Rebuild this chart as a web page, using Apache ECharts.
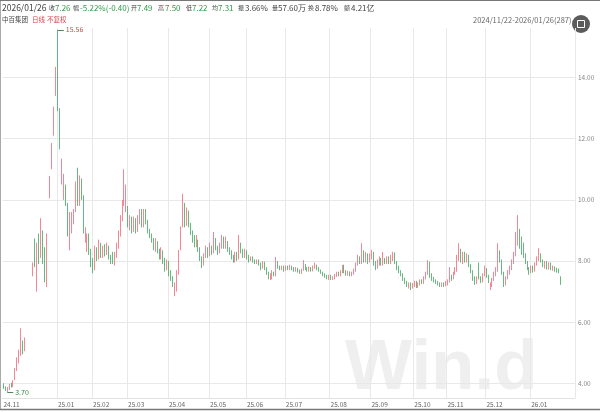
<!DOCTYPE html>
<html><head><meta charset="utf-8">
<script src="https://cdn.jsdelivr.net/npm/echarts@6/dist/echarts.min.js"></script>
<style>html,body{margin:0;padding:0;background:#fff}#c{width:600px;height:412px}</style>
</head><body><div id="c"></div>
<script>
// ---- data ----
const monthLabels = ['24.11','24.12','25.01','25.02','25.03','25.04','25.05','25.06','25.07','25.08','25.09','25.10','25.11','25.12','26.01'];
const monthDays   = [6,22,18,18,21,21,19,20,23,21,22,17,20,23,16];
const shownMonths = ['24.11','25.01','25.02','25.03','25.04','25.05','25.06','25.07','25.08','25.09','25.10','25.11','25.12','26.01'];
const yTicks = [4,6,8,10,12,14];

const opens = [
3.95,3.85,3.78,3.82,3.95,3.90,
4.15,4.45,4.75,5.00,5.30,5.10,5.97,6.57,7.23,7.60,8.74,7.80,8.40,8.30,8.90,8.20,7.50,9.79,10.10,11.05,12.15,13.50,
14.97,12.60,10.75,10.10,10.40,9.67,8.60,9.00,9.30,9.70,10.50,9.90,10.55,10.10,8.70,8.40,8.80,8.30,
7.95,7.80,8.30,8.10,8.45,8.20,8.40,8.25,8.45,8.15,8.25,7.95,8.20,8.50,8.90,9.40,9.90,9.90,
9.70,9.20,9.35,9.10,9.30,9.05,9.30,9.50,9.20,9.60,9.30,9.00,8.85,8.70,8.45,8.60,8.35,8.15,8.30,8.00,7.80,
7.95,7.60,7.45,7.00,7.10,7.60,8.40,9.30,9.70,9.30,9.55,9.20,8.95,8.75,8.55,8.65,8.40,8.10,7.90,8.15,8.35,
8.20,8.45,8.30,8.70,8.45,8.30,8.50,8.70,8.50,8.60,8.40,8.30,8.15,8.05,8.20,8.10,8.55,8.35,8.20,
8.30,8.15,8.05,8.10,8.00,7.95,8.00,7.92,7.80,7.95,7.75,7.60,7.42,7.50,7.60,7.55,7.95,7.80,7.75,7.80,
7.72,7.80,7.75,7.82,7.75,7.70,7.74,7.68,7.62,7.70,7.85,7.75,7.70,7.78,7.70,7.80,7.85,7.75,7.70,7.62,7.55,7.50,7.45,
7.50,7.42,7.45,7.52,7.60,7.55,7.65,7.85,7.65,7.58,7.62,7.55,7.60,7.70,7.90,8.10,7.95,8.30,8.05,8.20,8.00,
8.15,8.25,7.95,7.80,7.95,8.05,7.90,8.05,8.00,8.10,7.95,8.10,8.25,7.95,7.80,7.65,7.55,7.40,7.30,7.20,7.25,7.15,
7.20,7.30,7.20,7.25,7.35,7.30,7.45,7.60,7.95,7.50,7.42,7.35,7.30,7.25,7.20,7.25,7.22,
7.25,7.35,7.50,7.45,7.60,7.70,8.10,8.30,8.00,8.20,8.05,8.15,7.85,7.65,7.45,7.30,7.90,7.45,7.35,7.55,
7.70,7.50,7.10,7.25,7.40,7.55,7.70,8.30,8.00,7.60,7.30,7.45,7.60,7.75,7.95,8.20,8.60,8.95,8.70,8.50,8.20,7.95,7.75,
7.65,7.80,7.70,7.90,8.05,8.20,8.00,7.85,7.95,7.80,7.90,7.75,7.80,7.72,7.68,7.49
];
const closes = [
3.85,3.80,3.82,3.95,3.90,4.05,
4.45,4.75,5.00,5.30,5.05,5.43,5.97,6.57,7.23,7.95,7.85,8.40,8.30,9.20,8.20,7.45,8.90,9.79,10.78,11.86,13.05,14.35,
12.95,11.70,11.30,10.70,9.90,8.90,9.50,9.55,9.65,10.40,9.90,10.60,10.20,9.00,8.90,8.80,8.30,7.90,
7.75,8.30,8.10,8.50,8.20,8.40,8.25,8.50,8.15,8.00,7.95,8.20,8.50,8.90,9.40,9.90,10.70,10.40,
9.15,9.40,9.10,9.35,9.05,9.30,9.55,9.20,9.60,9.30,9.00,8.85,8.70,8.45,8.60,8.35,8.15,8.30,8.00,7.80,7.95,
7.60,7.45,7.25,7.10,7.60,8.30,9.10,9.80,9.30,9.60,9.20,8.95,8.75,8.55,8.70,8.40,8.10,7.90,8.15,8.35,8.20,
8.45,8.30,8.70,8.45,8.30,8.50,8.75,8.50,8.60,8.40,8.30,8.15,8.05,8.20,8.10,8.60,8.35,8.20,8.30,
8.15,8.05,8.10,8.00,7.95,8.00,7.92,7.80,7.95,7.75,7.60,7.50,7.50,7.60,7.55,8.00,7.80,7.75,7.80,7.72,
7.80,7.75,7.82,7.75,7.70,7.74,7.68,7.62,7.70,7.85,7.75,7.70,7.78,7.70,7.80,7.85,7.75,7.70,7.62,7.55,7.50,7.45,7.50,
7.42,7.45,7.52,7.60,7.55,7.65,7.80,7.65,7.58,7.62,7.55,7.60,7.70,7.90,8.10,7.95,8.30,8.05,8.20,8.00,8.15,
8.25,7.95,7.80,7.95,8.05,7.90,8.05,8.00,8.10,7.95,8.10,8.25,7.95,7.80,7.65,7.55,7.40,7.30,7.20,7.25,7.15,7.20,
7.30,7.20,7.25,7.35,7.30,7.45,7.60,7.95,7.50,7.42,7.35,7.30,7.25,7.20,7.25,7.22,7.28,
7.35,7.50,7.45,7.60,7.70,8.10,8.30,8.00,8.20,8.05,8.15,7.85,7.65,7.45,7.30,7.45,7.45,7.35,7.55,7.70,
7.50,7.35,7.25,7.40,7.55,7.70,8.30,8.00,7.60,7.30,7.45,7.60,7.75,7.95,8.20,8.60,9.00,8.50,8.30,8.20,7.95,7.75,7.65,
7.80,7.70,7.90,8.05,8.20,8.00,7.85,7.95,7.80,7.90,7.75,7.80,7.72,7.68,7.66,7.26
];
const highs = [
4.00,3.90,3.88,3.98,4.02,4.10,
4.50,4.85,5.10,5.80,5.40,5.50,5.97,6.57,7.23,7.95,8.74,8.60,8.90,9.40,9.00,8.45,8.90,9.79,10.78,11.86,13.05,14.35,
15.56,13.00,11.35,10.85,10.50,9.90,9.60,9.60,9.70,10.60,11.05,10.80,10.70,10.15,9.10,8.90,8.90,8.40,
8.10,8.50,8.45,8.70,8.60,8.50,8.55,8.60,8.50,8.20,8.30,8.30,8.60,9.00,9.50,10.00,11.00,10.50,
9.80,9.50,9.45,9.45,9.40,9.50,9.70,9.70,9.70,9.70,9.35,9.05,8.90,8.75,8.75,8.65,8.40,8.45,8.35,8.10,8.05,
8.00,7.70,7.50,7.30,7.70,8.36,9.13,10.20,9.90,9.75,9.65,9.25,9.00,8.85,8.85,8.70,8.45,8.15,8.25,8.50,8.45,
8.60,8.50,8.95,8.75,8.50,8.60,8.85,8.80,8.80,8.65,8.45,8.35,8.20,8.30,8.30,8.85,8.60,8.40,8.40,
8.35,8.20,8.15,8.15,8.05,8.05,8.05,7.95,8.00,7.98,7.80,7.65,7.60,7.70,7.65,8.13,8.00,7.85,7.85,7.85,
7.85,7.85,7.88,7.85,7.80,7.80,7.78,7.72,7.75,8.03,7.90,7.80,7.82,7.80,7.85,7.95,7.88,7.80,7.72,7.65,7.60,7.55,7.55,
7.55,7.50,7.58,7.65,7.65,7.70,7.87,7.88,7.70,7.68,7.66,7.65,7.75,7.95,8.20,8.15,8.58,8.35,8.30,8.25,8.25,
8.36,8.30,8.00,8.05,8.15,8.10,8.30,8.10,8.15,8.15,8.20,8.30,8.28,8.00,7.85,7.70,7.60,7.45,7.35,7.30,7.30,7.28,
7.35,7.35,7.30,7.40,7.40,7.50,7.65,8.03,7.98,7.60,7.48,7.40,7.35,7.30,7.30,7.30,7.35,
7.40,7.80,7.55,7.65,7.80,8.20,8.58,8.40,8.30,8.30,8.25,8.20,7.90,7.70,7.50,7.50,7.95,7.50,7.60,7.85,
7.77,7.55,7.30,7.45,7.65,7.80,8.58,8.35,8.05,7.65,7.50,7.70,7.85,8.05,8.30,8.95,9.50,9.05,8.80,8.60,8.25,8.00,7.80,
7.85,7.85,7.95,8.15,8.42,8.25,8.05,8.00,8.00,7.96,7.95,7.85,7.82,7.78,7.75,7.50
];
const lows = [
3.82,3.75,3.70,3.78,3.86,3.88,
4.10,4.40,4.65,4.90,4.95,5.05,5.97,6.57,7.23,7.50,7.80,7.00,7.90,8.10,7.90,7.30,7.15,9.79,10.05,11.00,12.10,13.40,
12.90,11.65,10.50,10.00,9.80,8.80,8.35,8.90,9.20,9.60,9.80,9.80,10.00,8.90,8.60,8.30,8.20,7.80,
7.60,7.70,8.00,8.05,8.10,8.10,8.15,8.20,8.05,7.90,7.90,7.85,8.10,8.40,8.80,9.30,9.80,9.60,
9.10,9.00,8.90,8.95,8.90,8.95,9.20,9.10,9.10,9.20,8.90,8.75,8.60,8.35,8.30,8.25,8.05,8.05,7.90,7.65,7.70,
7.50,7.35,7.15,6.85,7.00,7.55,8.35,9.10,9.10,9.15,9.10,8.85,8.60,8.45,8.45,8.30,8.00,7.77,7.85,8.10,8.10,
8.15,8.20,8.25,8.35,8.20,8.25,8.40,8.40,8.40,8.30,8.20,8.05,7.95,7.95,8.00,8.05,8.25,8.10,8.10,
8.05,7.95,8.00,7.95,7.90,7.90,7.85,7.70,7.75,7.70,7.55,7.40,7.38,7.40,7.50,7.50,7.75,7.70,7.70,7.65,
7.68,7.70,7.70,7.70,7.65,7.65,7.62,7.58,7.58,7.68,7.70,7.65,7.65,7.65,7.66,7.75,7.70,7.65,7.58,7.50,7.45,7.40,7.38,
7.38,7.38,7.40,7.48,7.50,7.50,7.60,7.60,7.52,7.52,7.50,7.50,7.55,7.65,7.85,7.90,7.90,7.95,7.95,7.90,7.95,
8.05,7.85,7.70,7.75,7.85,7.85,7.85,7.90,7.90,7.90,7.90,8.00,7.90,7.70,7.60,7.50,7.35,7.25,7.15,7.10,7.05,7.10,
7.15,7.12,7.12,7.20,7.25,7.25,7.40,7.55,7.45,7.35,7.30,7.25,7.20,7.15,7.15,7.15,7.18,
7.20,7.30,7.35,7.40,7.55,7.65,8.00,7.95,7.90,7.95,7.95,7.80,7.60,7.35,7.22,7.25,7.40,7.28,7.30,7.50,
7.45,7.28,7.05,7.15,7.35,7.50,7.65,7.95,7.55,7.15,7.20,7.40,7.55,7.70,7.90,8.15,8.50,8.40,8.20,8.10,7.90,7.70,7.55,
7.60,7.62,7.65,7.85,8.00,7.95,7.80,7.75,7.72,7.72,7.70,7.68,7.65,7.62,7.60,7.22
];
const padSlots = 7;

// ---- build ----
const total = monthDays.reduce((a,b)=>a+b,0);
if ([opens,closes,highs,lows].some(a=>a.length!==total)) {
  throw new Error('length mismatch '+[opens.length,closes.length,highs.length,lows.length].join(','));
}
const cats = [];
const monthStart = {};
monthLabels.forEach((m, mi) => {
  for (let d = 1; d <= monthDays[mi]; d++) {
    if (d === 1 && shownMonths.indexOf(m) >= 0) monthStart[cats.length] = m;
    cats.push(m + '.' + d);
  }
});
for (let p = 0; p < padSlots; p++) cats.push('pad' + p);
const kdata = opens.map((o, i) => [o, closes[i], lows[i], highs[i]]);
for (let p = 0; p < padSlots; p++) kdata.push('-');

const maxIdx = highs.indexOf(Math.max.apply(null, highs));
const minIdx = lows.indexOf(Math.min.apply(null, lows));

const RED = '#f26878', GREEN = '#3ea85e';
const FONT = '"Noto Sans CJK SC","Noto Sans",sans-serif';

const chart = echarts.init(document.getElementById('c'));
const txt = (x, y, s, fill, size, extra) => Object.assign({
  type: 'text', x: x, y: y, silent: true,
  style: { text: s, fill: fill, font: size + 'px ' + FONT, textVerticalAlign: 'middle' }
}, extra || {});
const hdrY = 8;
const GR = '#2f9a4a', DK = '#444', CJ = 6;
chart.setOption({
  animation: false,
  grid: { left: 2.5, right: 25, top: 28, bottom: 14 },
  xAxis: {
    type: 'category', data: cats, boundaryGap: true,
    axisLine: { show: true, lineStyle: { color: '#e2e2e2' } },
    axisTick: { show: false },
    axisLabel: {
      interval: (i) => monthStart[i] !== undefined,
      formatter: (v, i) => monthStart[i] || '',
      align: 'left', margin: 3, fontSize: 6.5, color: '#666', fontFamily: FONT
    },
    splitLine: { show: true, interval: (i) => monthStart[i] !== undefined && i > 0, lineStyle: { color: '#e8e8e8', width: 1 } }
  },
  yAxis: {
    type: 'value', position: 'right', min: 3.52, max: 15.62,
    axisLine: { show: false }, axisTick: { show: false, customValues: yTicks },
    axisLabel: { customValues: yTicks, formatter: (v) => v.toFixed(2), fontSize: 6.5, color: '#888', margin: 3, fontFamily: FONT },
    splitLine: { show: true, lineStyle: { color: '#e8e8e8', width: 1 } }
  },
  series: [{
    type: 'candlestick', data: kdata, barWidth: 1.2,
    itemStyle: { color: RED, color0: GREEN, borderColor: RED, borderColor0: GREEN, borderColorDoji: RED, borderWidth: 0.8 },
    markLine: {
      silent: true, symbol: ['none', 'none'], animation: false,
      data: [
        [{ coord: [cats[maxIdx], highs[maxIdx]], lineStyle: { color: '#4a8a5a', width: 1, type: 'solid' },
           label: { show: true, position: 'end', formatter: highs[maxIdx].toFixed(2), color: '#c0504d', fontSize: 7, distance: 2, fontFamily: FONT } },
         { coord: [cats[maxIdx + 3], highs[maxIdx]] }],
        [{ coord: [cats[minIdx], lows[minIdx]], lineStyle: { color: '#4a8a5a', width: 1, type: 'solid' },
           label: { show: true, position: 'end', formatter: lows[minIdx].toFixed(2), color: '#2f8a4a', fontSize: 7, distance: 2, fontFamily: FONT } },
         { coord: [cats[minIdx + 3], lows[minIdx]] }]
      ]
    }
  }],
  graphic: [
    { type: 'text', x: 345, y: 405, z: -10, silent: true,
      style: { text: 'Win.d', fill: '#efefef', font: 'bold 71px "Liberation Sans",sans-serif', textVerticalAlign: 'bottom' } },
    { type: 'rect', z: -5, silent: true, shape: { x: 300, y: 398.5, width: 270, height: 10 }, style: { fill: '#fff' } },
    txt(2, hdrY, '2026/01/26', DK, 8.5),
    txt(49, hdrY, '收', DK, CJ), txt(55, hdrY, '7.26', GR, 8),
    txt(73, hdrY, '幅', DK, CJ), txt(80, hdrY, '-5.22%(-0.40)', GR, 8),
    txt(131, hdrY, '开', DK, CJ), txt(137, hdrY, '7.49', GR, 8),
    txt(158, hdrY, '高', DK, CJ), txt(165, hdrY, '7.50', GR, 8),
    txt(186, hdrY, '低', DK, CJ), txt(192, hdrY, '7.22', GR, 8),
    txt(212, hdrY, '均', DK, CJ), txt(218, hdrY, '7.31', GR, 8),
    txt(238, hdrY, '振', DK, CJ), txt(245, hdrY, '3.66%', DK, 8),
    txt(272, hdrY, '量', DK, CJ), txt(278, hdrY, '57.60万', DK, 8),
    txt(308, hdrY, '换', DK, CJ), txt(315, hdrY, '8.78%', DK, 8),
    txt(344, hdrY, '额', DK, CJ), txt(351, hdrY, '4.21亿', DK, 8),
    txt(2, 20, '中百集团', DK, 6.5), txt(32, 20, '日线', '#e0404a', 6.5), txt(47, 20, '不复权', '#e0404a', 6.5),
    txt(473, 20, '2024/11/22-2026/01/26(287)', '#666', 7.5),
    { type: 'line', silent: true, shape: { x1: 575.5, y1: 28, x2: 575.5, y2: 398 }, style: { stroke: '#e2e2e2', lineWidth: 1 } },
    { type: 'line', silent: true, shape: { x1: 0.5, y1: 0, x2: 0.5, y2: 410 }, style: { stroke: '#aaa', lineWidth: 1 } },
    { type: 'line', silent: true, shape: { x1: 0, y1: 0.5, x2: 600, y2: 0.5 }, style: { stroke: '#777', lineWidth: 1 } },
    { type: 'line', silent: true, shape: { x1: 0, y1: 409.5, x2: 600, y2: 409.5 }, style: { stroke: '#777', lineWidth: 1.5 } },
    { type: 'circle', silent: true, shape: { cx: 581, cy: 24, r: 9 }, style: { fill: '#5b5b5b' } },
    { type: 'rect', silent: true, shape: { x: 577.5, y: 20.5, width: 7, height: 7 }, style: { fill: 'none', stroke: '#fff', lineWidth: 1 } }
  ]
});
</script>
</body></html>
